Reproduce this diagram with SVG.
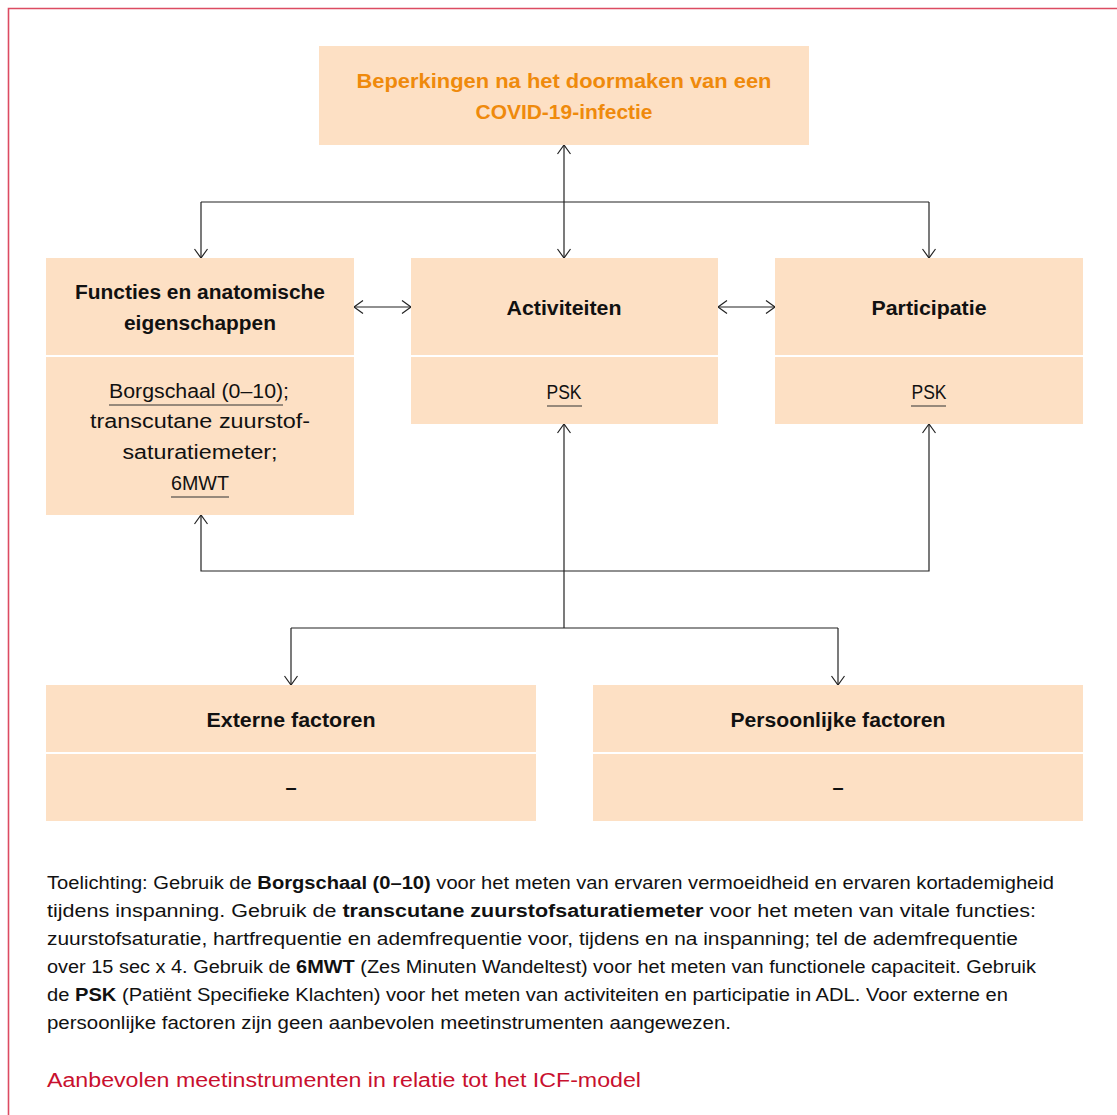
<svg xmlns="http://www.w3.org/2000/svg" width="1117" height="1115" viewBox="0 0 1117 1115">
<defs>
<marker id="arr" viewBox="0 0 10 14" refX="10" refY="7" markerWidth="10" markerHeight="14" markerUnits="userSpaceOnUse" orient="auto-start-reverse">
<path d="M1,0.5 L10,7 L1,13.5" fill="none" stroke="#222" stroke-width="1.2"/>
</marker>
<style>
.box{fill:#fde0c4}
.sep{stroke:#ffffff;stroke-width:2}
.t{font-family:"Liberation Sans",Arial,sans-serif;font-size:20px;font-weight:bold;fill:#111;text-anchor:middle}
.b{font-family:"Liberation Sans",Arial,sans-serif;font-size:20px;fill:#111;text-anchor:middle}
.h{font-family:"Liberation Sans",Arial,sans-serif;font-size:20px;font-weight:bold;fill:#ef8a0c;text-anchor:middle}
.ul{stroke:#333;stroke-width:1.2}
.c{fill:none;stroke:#222;stroke-width:1.2}
.p{font-family:"Liberation Sans",Arial,sans-serif;font-size:17.5px;fill:#111}
.p tspan.bo{font-weight:bold}
.cap{font-family:"Liberation Sans",Arial,sans-serif;font-size:20px;fill:#c8102e}
</style>
</defs>
<rect width="1117" height="1115" fill="#ffffff"/>
<path d="M8.5,1115 L8.5,8.5 L1117,8.5" fill="none" stroke="#dc4b62" stroke-width="1.6"/>

<g id="connectors">
<line class="c" x1="564" y1="145" x2="564" y2="258" marker-start="url(#arr)" marker-end="url(#arr)"/>
<path class="c" d="M201,202 L929,202"/>
<line class="c" x1="201" y1="202" x2="201" y2="258" marker-end="url(#arr)"/>
<line class="c" x1="929" y1="202" x2="929" y2="258" marker-end="url(#arr)"/>
<line class="c" x1="354" y1="307" x2="411" y2="307" marker-start="url(#arr)" marker-end="url(#arr)"/>
<line class="c" x1="718" y1="307" x2="775" y2="307" marker-start="url(#arr)" marker-end="url(#arr)"/>
<path class="c" d="M201,515 L201,571 L929,571 L929,424" marker-start="url(#arr)" marker-end="url(#arr)"/>
<line class="c" x1="564" y1="424" x2="564" y2="628" marker-start="url(#arr)"/>
<path class="c" d="M291,628 L838,628"/>
<line class="c" x1="291" y1="628" x2="291" y2="685" marker-end="url(#arr)"/>
<line class="c" x1="838" y1="628" x2="838" y2="685" marker-end="url(#arr)"/>
</g>

<g id="node-beperkingen">
<rect class="box" x="319" y="46" width="490" height="99"/>
<text class="h" x="564" y="88" textLength="415" lengthAdjust="spacingAndGlyphs">Beperkingen na het doormaken van een</text>
<text class="h" x="564" y="119" textLength="177" lengthAdjust="spacingAndGlyphs">COVID-19-infectie</text>
</g>

<g id="node-functies">
<rect class="box" x="46" y="258" width="308" height="257"/>
<line class="sep" x1="46" y1="356" x2="354" y2="356"/>
<text class="t" x="200" y="299" textLength="250" lengthAdjust="spacingAndGlyphs">Functies en anatomische</text>
<text class="t" x="200" y="330" textLength="152" lengthAdjust="spacingAndGlyphs">eigenschappen</text>
<text class="b" x="199" y="398" textLength="180" lengthAdjust="spacingAndGlyphs">Borgschaal (0–10);</text>
<text class="b" x="200" y="428" textLength="220" lengthAdjust="spacingAndGlyphs">transcutane zuurstof-</text>
<text class="b" x="200" y="459" textLength="155" lengthAdjust="spacingAndGlyphs">saturatiemeter;</text>
<text class="b" x="200" y="490" textLength="58" lengthAdjust="spacingAndGlyphs">6MWT</text>
<line class="ul" x1="109" y1="405" x2="283" y2="405"/>
<line class="ul" x1="171" y1="497" x2="229" y2="497"/>
</g>

<g id="node-activiteiten">
<rect class="box" x="411" y="258" width="307" height="166"/>
<line class="sep" x1="411" y1="356" x2="718" y2="356"/>
<text class="t" x="564" y="315" textLength="115" lengthAdjust="spacingAndGlyphs">Activiteiten</text>
<text class="b" x="564" y="399" textLength="35" lengthAdjust="spacingAndGlyphs">PSK</text>
<line class="ul" x1="547" y1="406" x2="582" y2="406"/>
</g>

<g id="node-participatie">
<rect class="box" x="775" y="258" width="308" height="166"/>
<line class="sep" x1="775" y1="356" x2="1083" y2="356"/>
<text class="t" x="929" y="315" textLength="115" lengthAdjust="spacingAndGlyphs">Participatie</text>
<text class="b" x="929" y="399" textLength="35" lengthAdjust="spacingAndGlyphs">PSK</text>
<line class="ul" x1="911" y1="406" x2="946" y2="406"/>
</g>

<g id="node-externe">
<rect class="box" x="46" y="685" width="490" height="136"/>
<line class="sep" x1="46" y1="753" x2="536" y2="753"/>
<text class="t" x="291" y="727" textLength="169" lengthAdjust="spacingAndGlyphs">Externe factoren</text>
<text class="t" x="291" y="794">–</text>
</g>

<g id="node-persoonlijke">
<rect class="box" x="593" y="685" width="490" height="136"/>
<line class="sep" x1="593" y1="753" x2="1083" y2="753"/>
<text class="t" x="838" y="727" textLength="215" lengthAdjust="spacingAndGlyphs">Persoonlijke factoren</text>
<text class="t" x="838" y="794">–</text>
</g>

<g id="toelichting">
<text class="p" x="47" y="889" textLength="1007" lengthAdjust="spacingAndGlyphs">Toelichting: Gebruik de <tspan class="bo">Borgschaal (0–10)</tspan> voor het meten van ervaren vermoeidheid en ervaren kortademigheid</text>
<text class="p" x="47" y="917" textLength="989" lengthAdjust="spacingAndGlyphs">tijdens inspanning. Gebruik de <tspan class="bo">transcutane zuurstofsaturatiemeter</tspan> voor het meten van vitale functies:</text>
<text class="p" x="47" y="945" textLength="971" lengthAdjust="spacingAndGlyphs">zuurstofsaturatie, hartfrequentie en ademfrequentie voor, tijdens en na inspanning; tel de ademfrequentie</text>
<text class="p" x="47" y="973" textLength="989" lengthAdjust="spacingAndGlyphs">over 15 sec x 4. Gebruik de <tspan class="bo">6MWT</tspan> (Zes Minuten Wandeltest) voor het meten van functionele capaciteit. Gebruik</text>
<text class="p" x="47" y="1001" textLength="961" lengthAdjust="spacingAndGlyphs">de <tspan class="bo">PSK</tspan> (Patiënt Specifieke Klachten) voor het meten van activiteiten en participatie in ADL. Voor externe en</text>
<text class="p" x="47" y="1029" textLength="684" lengthAdjust="spacingAndGlyphs">persoonlijke factoren zijn geen aanbevolen meetinstrumenten aangewezen.</text>
</g>

<g id="caption">
<text class="cap" x="47" y="1087" textLength="594" lengthAdjust="spacingAndGlyphs">Aanbevolen meetinstrumenten in relatie tot het ICF-model</text>
</g>
</svg>
